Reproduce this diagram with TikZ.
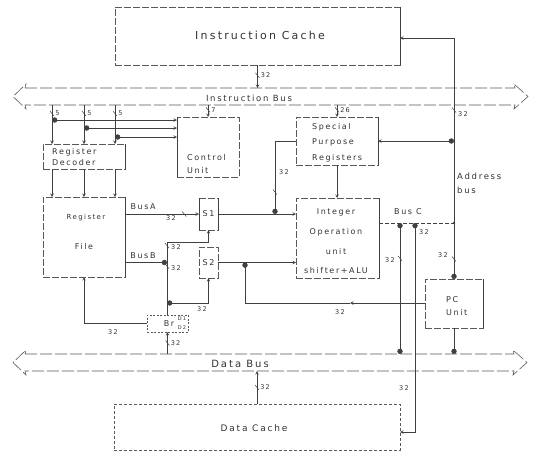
\documentclass[tikz,border=0pt]{standalone}
\usepackage{fontspec}
\newfontfamily\dgfont{DejaVu Sans}[LetterSpace=20]
\usetikzlibrary{arrows,positioning}

\tikzset{
  unit/.style={draw=black!65,dash pattern=on 7pt off 2pt,line width=.6pt,inner sep=0pt,outer sep=0pt},
  txt/.style={font=\dgfont\fontsize{8}{9}\selectfont,text=black!80,inner sep=0pt},
  num/.style={font=\dgfont\fontsize{6.5}{7}\selectfont,text=black!80,inner sep=0pt},
  wire/.style={draw=black!75,line width=.6pt},
  bus/.style={draw=black!65,line width=.6pt,dash pattern=on 12pt off 3pt},
  wt/.pic={\draw[-,solid,black!75,line width=.5pt] (-2,-2.5) -- (2,2.5);}
}

\begin{document}
\begin{tikzpicture}[x=1pt,y=-1pt,>=stealth]
  \useasboundingbox (0,0) rectangle (537,459);

  % the two buses
  \coordinate (ibN) at (0,88);  \coordinate (ibS) at (0,105);
  \coordinate (dbN) at (0,354); \coordinate (dbS) at (0,371);
  \draw[bus] (25,88) -- (515,88) -- (514,84) -- (528,96.5) -- (514,109) -- (515,105)
    -- (25,105) -- (26,109) -- (13,96.5) -- (26,84) -- cycle;
  \draw[bus] (25,354) -- (514,354) -- (513,350) -- (527,362.5) -- (513,375) -- (514,371)
    -- (25,371) -- (26,375) -- (13,362.5) -- (26,350) -- cycle;
  \node[txt,font=\dgfont\fontsize{8.5}{9}\selectfont] (ibusT) at (249,98) {Instruction Bus};
  \node[txt,font=\dgfont\fontsize{10}{11}\selectfont] (dbusT) at (240,364) {Data Bus};

  % units
  \node[unit,minimum width=285pt,minimum height=58pt] (icache) at (257.5,36) {};
  \node[unit,minimum width=62pt,minimum height=60pt] (ctrl) at (208,147) {};
  \node[unit,minimum width=82pt,minimum height=48pt] (spr) at (337,141) {};
  \node[unit,minimum width=82pt,minimum height=25pt] (dec) at (84,156.5) {};
  \node[unit,minimum width=82pt,minimum height=80pt] (rf) at (84,237) {};
  \node[unit,minimum width=19pt,minimum height=32pt,txt] (s1) at (208.5,214) {S1};
  \node[unit,minimum width=19pt,minimum height=31pt,txt] (s2) at (208.5,262.5) {S2};
  \node[unit,minimum width=83pt,minimum height=80pt] (alu) at (337.5,238) {};
  \node[unit,minimum width=58pt,minimum height=49pt] (pc) at (454,303.5) {};
  \node[unit,dash pattern=on 2pt off 1.5pt,minimum width=41pt,minimum height=17pt] (br) at (167.5,323.5) {};
  \node[unit,dash pattern=on 3pt off 2pt,minimum width=286pt,minimum height=46pt] (dcache) at (257,427) {};
  \foreach \b in {icache,dec,rf,spr,alu,pc}
    \draw[wire] (\b.north east) -- (\b.south east);
  \draw[wire] (ctrl.north west) -- (ctrl.south west);
  \draw[wire] (s1.north west) -- (s1.south west) (s1.north east) -- (s1.south east);

  % unit texts
  \node[txt,font=\dgfont\fontsize{11}{12}\selectfont] (icacheT) at (260,35) {Instruction Cache};
  \node[txt,align=left,anchor=west,font=\dgfont\fontsize{8}{13}\selectfont] (ctrlT) at (187,164.5) {Control\\Unit};
  \node[txt,align=left,anchor=west,font=\dgfont\fontsize{8}{15.5}\selectfont] (sprT) at (312,142.5) {Special\\Purpose\\Registers};
  \node[txt,align=left,anchor=west,font=\dgfont\fontsize{8}{10.5}\selectfont] (decT) at (52,157) {Register\\Decoder};
  \node[txt,font=\dgfont\fontsize{7}{8}\selectfont] (rfT1) at (86,218) {Register};
  \node[txt] (rfT2) at (84,247) {File};
  \node[txt,align=center,font=\dgfont\fontsize{8}{19.7}\selectfont] (aluT) at (336,241.5) {Integer\\Operation\\unit\\shifter+ALU};
  \node[txt,align=left,anchor=west,font=\dgfont\fontsize{8}{13}\selectfont] (pcT) at (446,306) {PC\\Unit};
  \node[txt] (brT) at (169,323.5) {Br};
  \node[num,font=\dgfont\fontsize{5}{5}\selectfont] (d1T) at (182,318.5) {D1};
  \node[num,font=\dgfont\fontsize{5}{5}\selectfont] (d2T) at (182,327.5) {D2};
  \node[txt,font=\dgfont\fontsize{9}{10}\selectfont] (dcacheT) at (254,428) {Data Cache};
  \node[txt,align=left,anchor=west,font=\dgfont\fontsize{8.5}{14}\selectfont] (addrT) at (457,183) {Address\\bus};
  \node[txt] (busAT) at (143,207) {BusA};
  \node[txt] (busBT) at (143,256) {BusB};
  \node[txt] (busCT) at (408,212) {Bus C};

  % instruction side
  \draw[wire,->] (icache.south) -- (icache.south |- ibN) pic[pos=.45]{wt} node[num,pos=.45,right=3pt] (n32ic) {32};
  \coordinate (da) at ([xshift=9pt]dec.north west);
  \coordinate (db) at ([xshift=41pt]dec.north west);
  \coordinate (dc) at ([xshift=72pt]dec.north west);
  \path (ctrl.north west) ++(0,3) coordinate (ca) ++(0,8) coordinate (cb) ++(0,9) coordinate (cc);
  \foreach \c/\k/\t in {da/1/ca,db/2/cb,dc/3/cc}{
    \draw[wire,->] (\c |- ibS) -- (\c) pic[pos=.22]{wt} node[num,pos=.22,right=3pt] (n5\k) {5};
    \draw[wire,*->] (\c |- \t) -- (\t);
    \draw[wire,->] (\c |- dec.south) -- (\c |- rf.north);
  }
  \draw[wire,->] (ctrl.north |- ibS) -- (ctrl.north) pic[pos=.4]{wt} node[num,pos=.4,right=3pt] (n7) {7};
  \draw[wire,->] (spr.north |- ibS) -- (spr.north) pic[pos=.4]{wt} node[num,pos=.4,right=3pt] (n26) {26};

  % register file and selectors
  \draw[wire,->] (rf.east |- s1.west) -- (s1.west) pic[pos=.8]{wt} node[num,pos=.62,below=1pt] (n32a) {32};
  \coordinate (bj) at (167,242);
  \coordinate (bj2) at (167,303);
  \draw[wire,-*] (rf.east |- s2.west) -- (bj |- s2.west);
  \draw[wire] (bj) -- (bj |- br.north) pic[pos=.05]{wt} pic[pos=.33]{wt};
  \node[num] (n32b) at (176,247) {32};
  \node[num] (n32c) at (176,268) {32};
  \draw[wire,->] (bj) -- (bj -| s1.south) -- (s1.south);
  \draw[wire,*->] (bj2) -- (bj2 -| s2.south) -- (s2.south);
  \node[num] (n32d) at (202,309) {32};
  \draw[wire,->] (br.west) -- (br.west -| rf.south) -- (rf.south);
  \node[num] (n32e) at (113,332) {32};
  \draw[wire,->] (br.south |- dbN) -- (br.south) pic[pos=.5]{wt} node[num,pos=.5,right=3pt] (n32f) {32};

  % operation unit
  \draw[wire,->] (s1.east) -- (s1.east -| alu.west);
  \draw[wire,->] (s2.east) -- (s2.east -| alu.west);
  \path (s1.east) ++(57,0) coordinate (sj);
  \draw[wire,-*] (spr.west) -- (spr.west -| sj) -- (sj) pic[pos=.7]{wt};
  \node[num] (n32g) at (284,172) {32};
  \draw[wire,->] (spr.south) -- (spr.south |- alu.north);

  % bus C
  \path (alu.north east) ++(0,25) coordinate (bc0) ++(21,0) coordinate (bc1) ++(15,0) coordinate (bc2);
  \draw[wire,dash pattern=on 4pt off 2pt] (bc0) -- (pc.north |- bc0);
  \fill[black!75] (pc.north |- bc0) circle (1.3pt);
  \node[num] (n32h) at (424,232) {32};
  \draw[wire,*-*] (bc1) -- (bc1 |- dbN) pic[pos=.27]{wt};
  \node[num] (n32i) at (390,260) {32};
  \path (dcache.north east) ++(0,28) coordinate (dce);
  \draw[wire,*->] (bc2) -- (bc2 |- dce) -- (dce);
  \node[num] (n32j) at (404,388) {32};

  % PC unit and address bus
  \path (pc.north west) ++(0,24) coordinate (pcw) ++(-75,0) coordinate (pcm);
  \path (s2.east) ++(27,0) coordinate (pj);
  \draw[wire,->] (pcw) -- (pcm);
  \draw[wire,-*] (pcm) -- (pcm -| pj) -- (pj);
  \node[num] (n32k) at (340,312) {32};
  \path (icache.north east) ++(0,31) coordinate (ic38);
  \draw[wire,*->] (pc.north) -- (pc.north |- ic38) -- (ic38);
  \draw[wire,*->] (pc.north |- spr.east) -- (spr.east);
  \path (pc.north) ++(0,-20) pic{wt};
  \node[num] (n32l) at (443,255) {32};
  \path (pc.north |- ibS) ++(0,5) pic{wt};
  \node[num] (n32m) at (463,114) {32};
  \draw[wire,-*] (pc.south) -- (pc.south |- dbN);

  % data cache
  \draw[wire,->] (dcache.north) -- (dcache.north |- dbS) pic[pos=.5]{wt} node[num,pos=.5,right=3pt] (n32n) {32};
\end{tikzpicture}
\end{document}
